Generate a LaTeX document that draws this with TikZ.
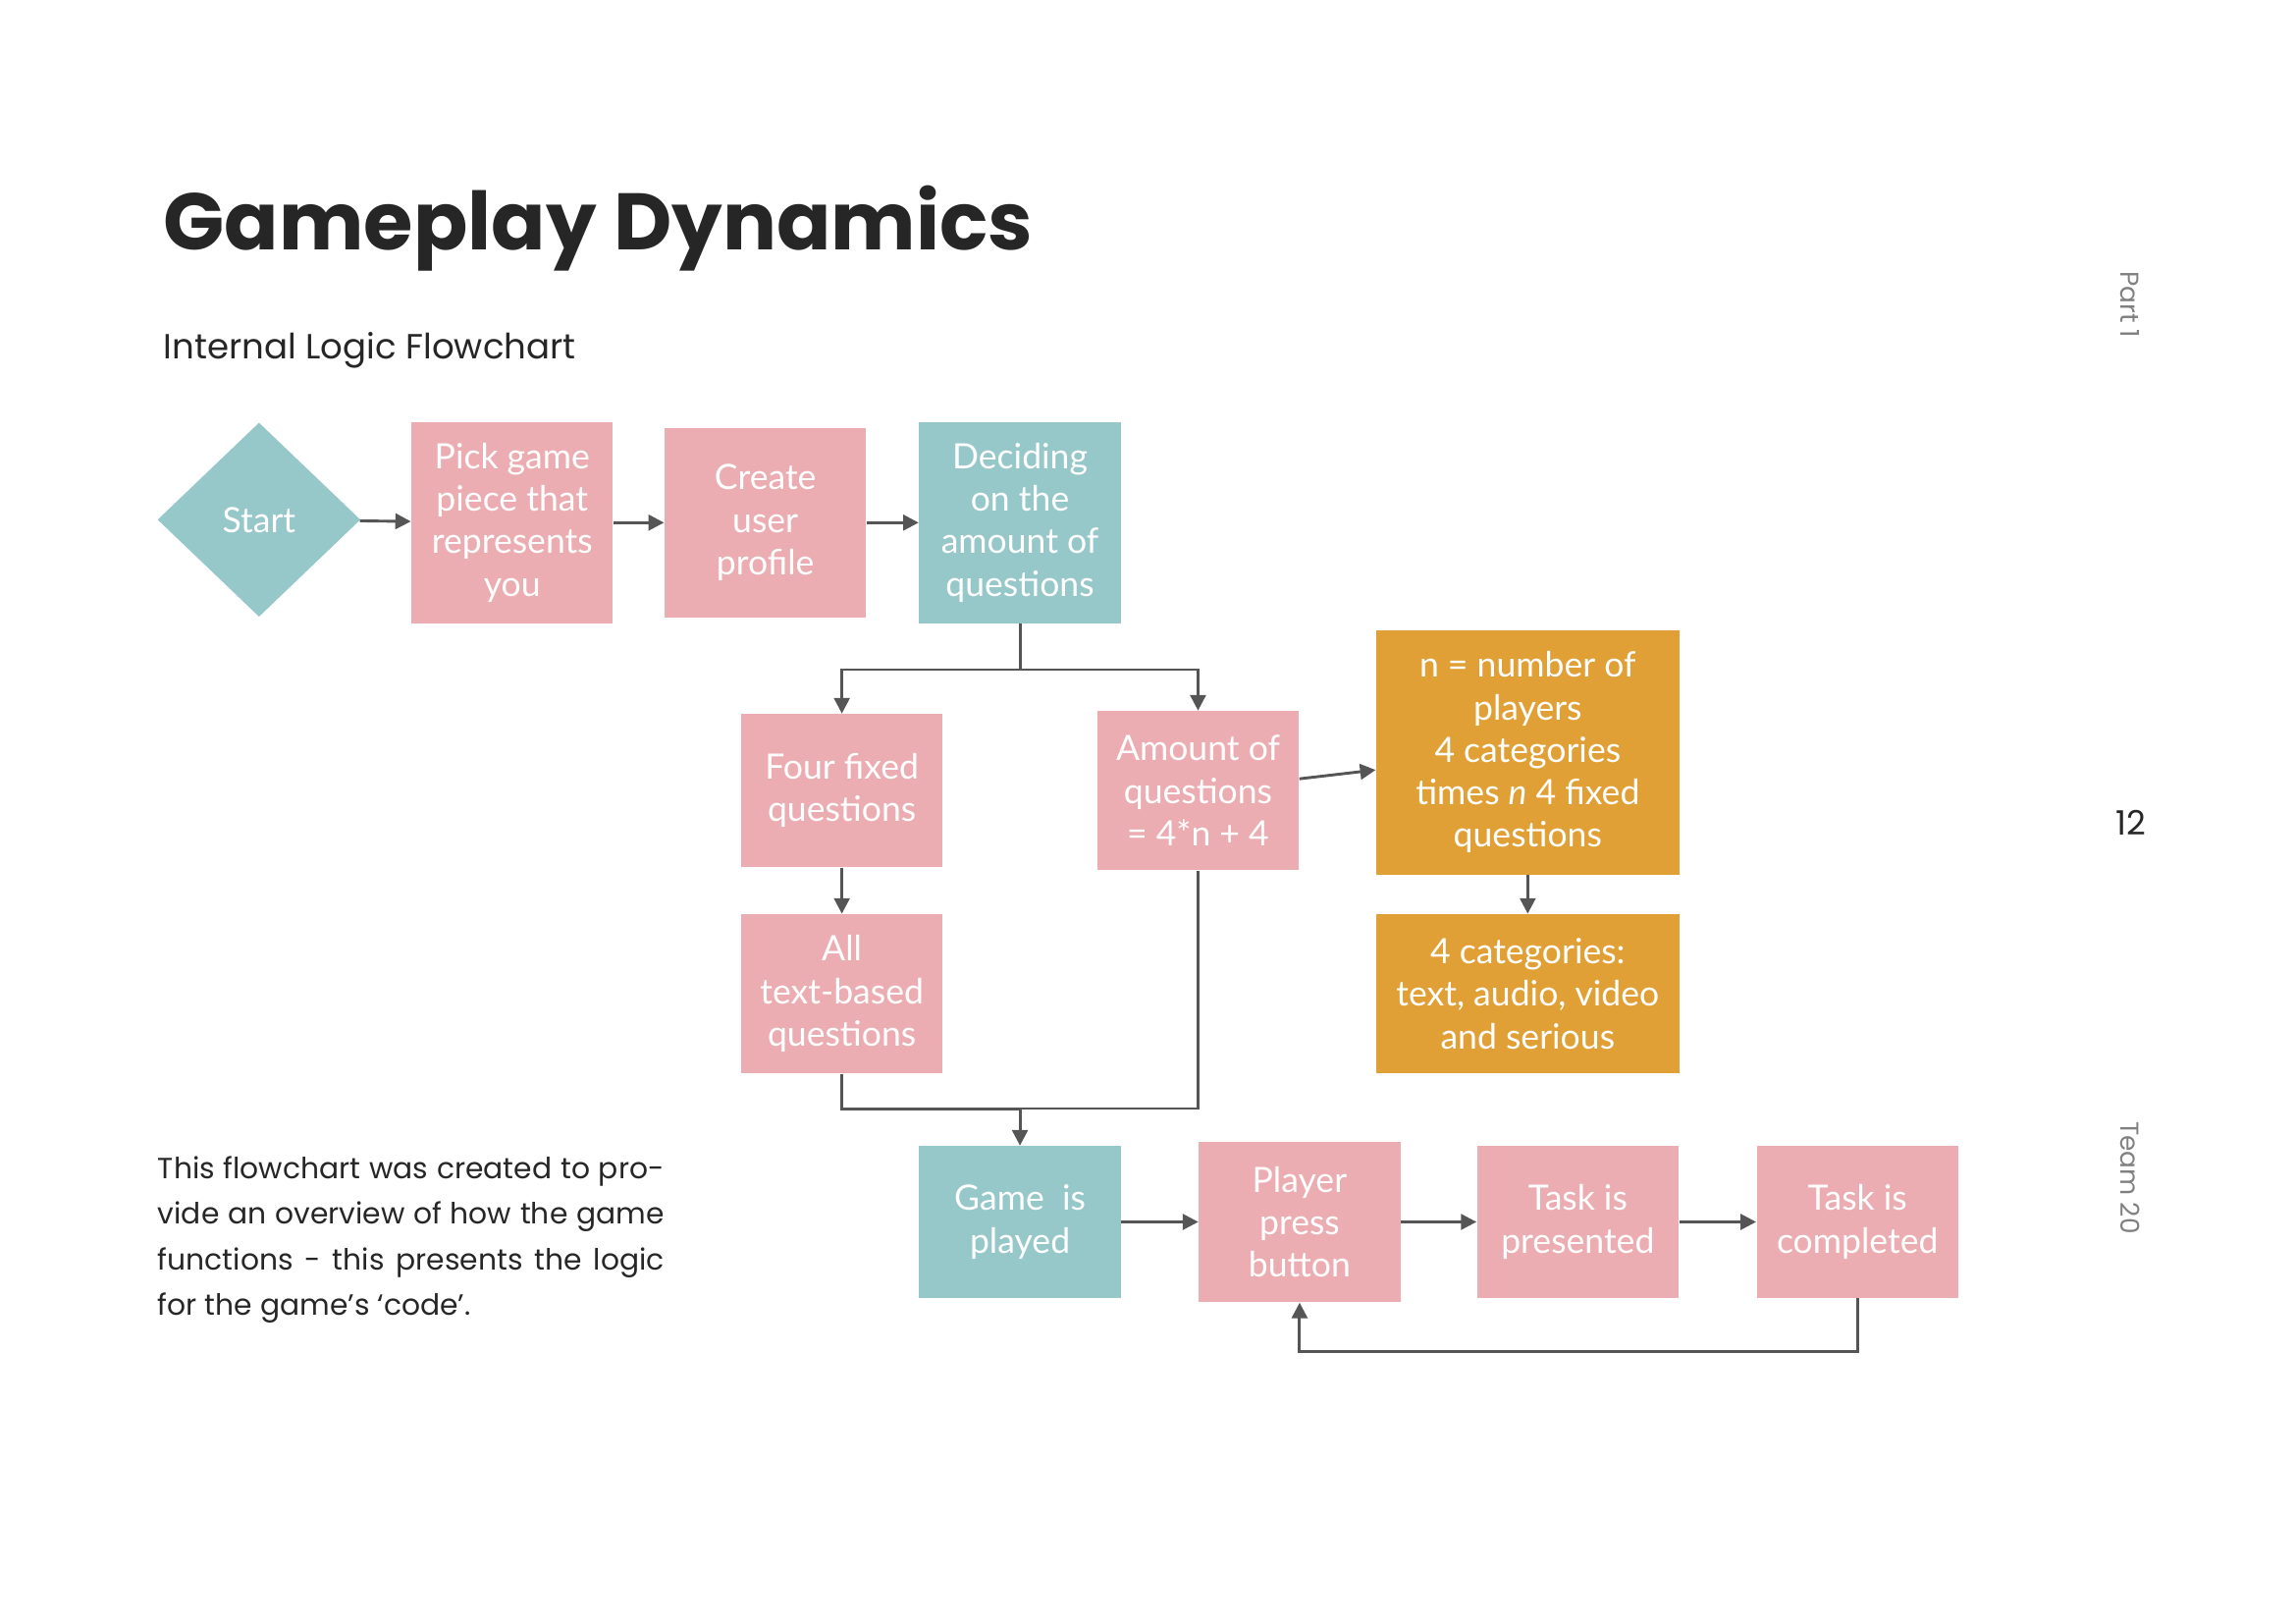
\documentclass[tikz,border=0pt]{standalone}
\usepackage{fontspec}
\setmainfont{Poppins}
\newfontfamily\nodefont{Lato}
\usetikzlibrary{shapes.geometric,arrows.meta}
\definecolor{pk}{HTML}{EBADB2}
\definecolor{tl}{HTML}{96C7C9}
\definecolor{og}{HTML}{E0A035}
\definecolor{ln}{HTML}{555555}
\begin{document}
\begin{tikzpicture}[x=0.02cm,y=-0.02cm,
 box/.style={draw=none,minimum width=2.74cm,align=center,text=white,font=\nodefont\fontsize{13.5}{16.4}\selectfont,inner sep=2pt},
 pbox/.style={box,fill=pk},
 tbox/.style={box,fill=tl},
 obox/.style={box,fill=og,minimum width=4.12cm},
 arr/.style={draw=ln,line width=1.1pt,-{Triangle[length=6pt,width=6pt]}},
 lin/.style={draw=ln,line width=1.1pt}]
\useasboundingbox (0,0) rectangle (1560,1103);
\node[anchor=base west,font=\bfseries\fontsize{31}{36}\selectfont,text=black!85] (title) at (105,170) {Gameplay Dynamics};
\node[anchor=base west,font=\fontsize{13.5}{16}\selectfont,text=black!85] (sub) at (105,244) {Internal Logic Flowchart};
\node[diamond,fill=tl,minimum width=2.76cm,minimum height=2.64cm,text=white,font=\nodefont\fontsize{13.5}{16.4}\selectfont,inner sep=0pt] (start) at (176,353) {Start};
\node[pbox,minimum height=2.74cm] (pick) at (348,355) {Pick game\\piece that\\represents\\you};
\node[pbox,minimum height=2.58cm] (create) at (520,355) {Create\\user\\profile};
\node[tbox,minimum height=2.74cm] (decide) at (693,355) {Deciding\\on the\\amount of\\questions};
\node[pbox,minimum height=2.08cm] (four) at (572,537) {Four fixed\\questions};
\node[pbox,minimum height=2.16cm] (amount) at (814,537) {Amount of\\questions\\= 4*n + 4};
\node[obox,minimum height=3.32cm] (n) at (1038,511) {n = number of\\players\\4 categories\\times \textit{n} 4 fixed\\questions};
\node[obox,minimum height=2.16cm] (cat) at (1038,675) {4 categories:\\text, audio, video\\and serious};
\node[pbox,minimum height=2.16cm] (all) at (572,675) {All\\text-based\\questions};
\node[tbox,minimum height=2.06cm] (game) at (693,830) {Game\ \ is\\played};
\node[pbox,minimum height=2.18cm] (player) at (883,830) {Player\\press\\button};
\node[pbox,minimum height=2.06cm] (pres) at (1072,830) {Task is\\presented};
\node[pbox,minimum height=2.06cm] (comp) at (1262,830) {Task is\\completed};
\draw[arr] (start) -- (pick);
\draw[arr] (pick) -- (create);
\draw[arr] (create) -- (decide);
\draw[arr] (decide.south) -- ++(0,31) -| (four.north);
\draw[arr] (decide.south) -- ++(0,31) -| (amount.north);
\draw[arr] (four) -- (all);
\draw[arr] (amount) -- (n);
\draw[arr] (n) -- (cat);
\draw[arr] (all.south) -- ++(0,24) -| (game.north);
\draw[lin] (amount.south) |- (693,753);
\draw[arr] (game) -- (player);
\draw[arr] (player) -- (pres);
\draw[arr] (pres) -- (comp);
\draw[arr] (comp.south) -- ++(0,36) -| (player.south);
\node[anchor=north west,text width=6.88cm,align=justify,font=\fontsize{11.3}{17.6}\selectfont,text=black!85,inner sep=0pt] (para) at (107,785) {This flowchart was created to provide an overview of how the game functions - this presents the logic for the game’s ‘code’.};
\node[rotate=-90,font=\fontsize{10}{12}\selectfont,text=black!50] (part) at (1447,207) {Part 1};
\node[font=\fontsize{13}{15}\selectfont,text=black!85] (pg) at (1448,559) {12};
\node[rotate=-90,font=\fontsize{10}{12}\selectfont,text=black!50] (team) at (1447,800) {Team 20};
\end{tikzpicture}
\end{document}
